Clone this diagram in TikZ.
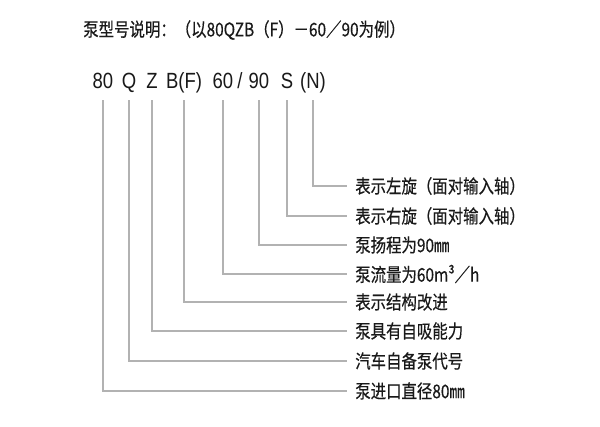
\documentclass[tikz,border=0pt]{standalone}
\usepackage{fontspec}
\newfontfamily\cjk[FakeStretch=0.82,FakeBold=0.4]{Noto Sans CJK SC}
\newfontfamily\codefont[FakeStretch=0.84]{Liberation Sans}
\definecolor{linegray}{RGB}{178,178,178}
\definecolor{ink}{RGB}{25,25,25}
\begin{document}
\begin{tikzpicture}[x=0.75pt,y=-0.75pt,
  code/.style={anchor=base, inner xsep=0pt, inner ysep=9pt, text depth=0pt, text=ink,
    font=\codefont\fontsize{16.5}{18}\selectfont},
  lbl/.style={anchor=west, inner xsep=6pt, inner ysep=0pt, text=ink,
    font=\cjk\fontsize{14.1}{16}\selectfont},
  conn/.style={draw=linegray, line width=0.8pt}]
\useasboundingbox (0,0) rectangle (600,426);
\fill[white] (0,0) rectangle (600,426);
\node[anchor=west, inner sep=0pt, text=ink, font=\cjk\fontsize{14.1}{16}\selectfont] (title) at (83,30)
  {泵型号说明：（以80QZB（F）－60／90为例）};
% code tokens
\node[code] (t80) at (103,88) {80};
\node[code] (tQ) at (129,88) {Q};
\node[code] (tZ) at (152,88) {Z};
\node[code] (tBF) at (184,88) {B(F)};
\node[code] (t60) at (223,88) {60};
\node[code] (tsl) at (240,88) {/};
\node[code] (t90) at (259,88) {90};
\node[code] (tS) at (287,88) {S};
\node[code] (tN) at (313,88) {(N)};
% labels
\node[lbl] (lN) at (347,186) {表示左旋（面对输入轴）};
\node[lbl] (lS) at (347,216) {表示右旋（面对输入轴）};
\node[lbl] (l90) at (347,245) {泵扬程为90㎜};
\node[lbl] (l60) at (347,274) {泵流量为60m³／h};
\node[lbl] (lBF) at (347,302) {表示结构改进};
\node[lbl] (lZ) at (347,331) {泵具有自吸能力};
\node[lbl] (lQ) at (347,361) {汽车自备泵代号};
\node[lbl] (l80) at (347,391) {泵进口直径80㎜};
% connectors
\draw[conn] (tN.south) |- (lN.west);
\draw[conn] (tS.south) |- (lS.west);
\draw[conn] (t90.south) |- (l90.west);
\draw[conn] (t60.south) |- (l60.west);
\draw[conn] (tBF.south) |- (lBF.west);
\draw[conn] (tZ.south) |- (lZ.west);
\draw[conn] (tQ.south) |- (lQ.west);
\draw[conn] (t80.south) |- (l80.west);
\end{tikzpicture}
\end{document}
